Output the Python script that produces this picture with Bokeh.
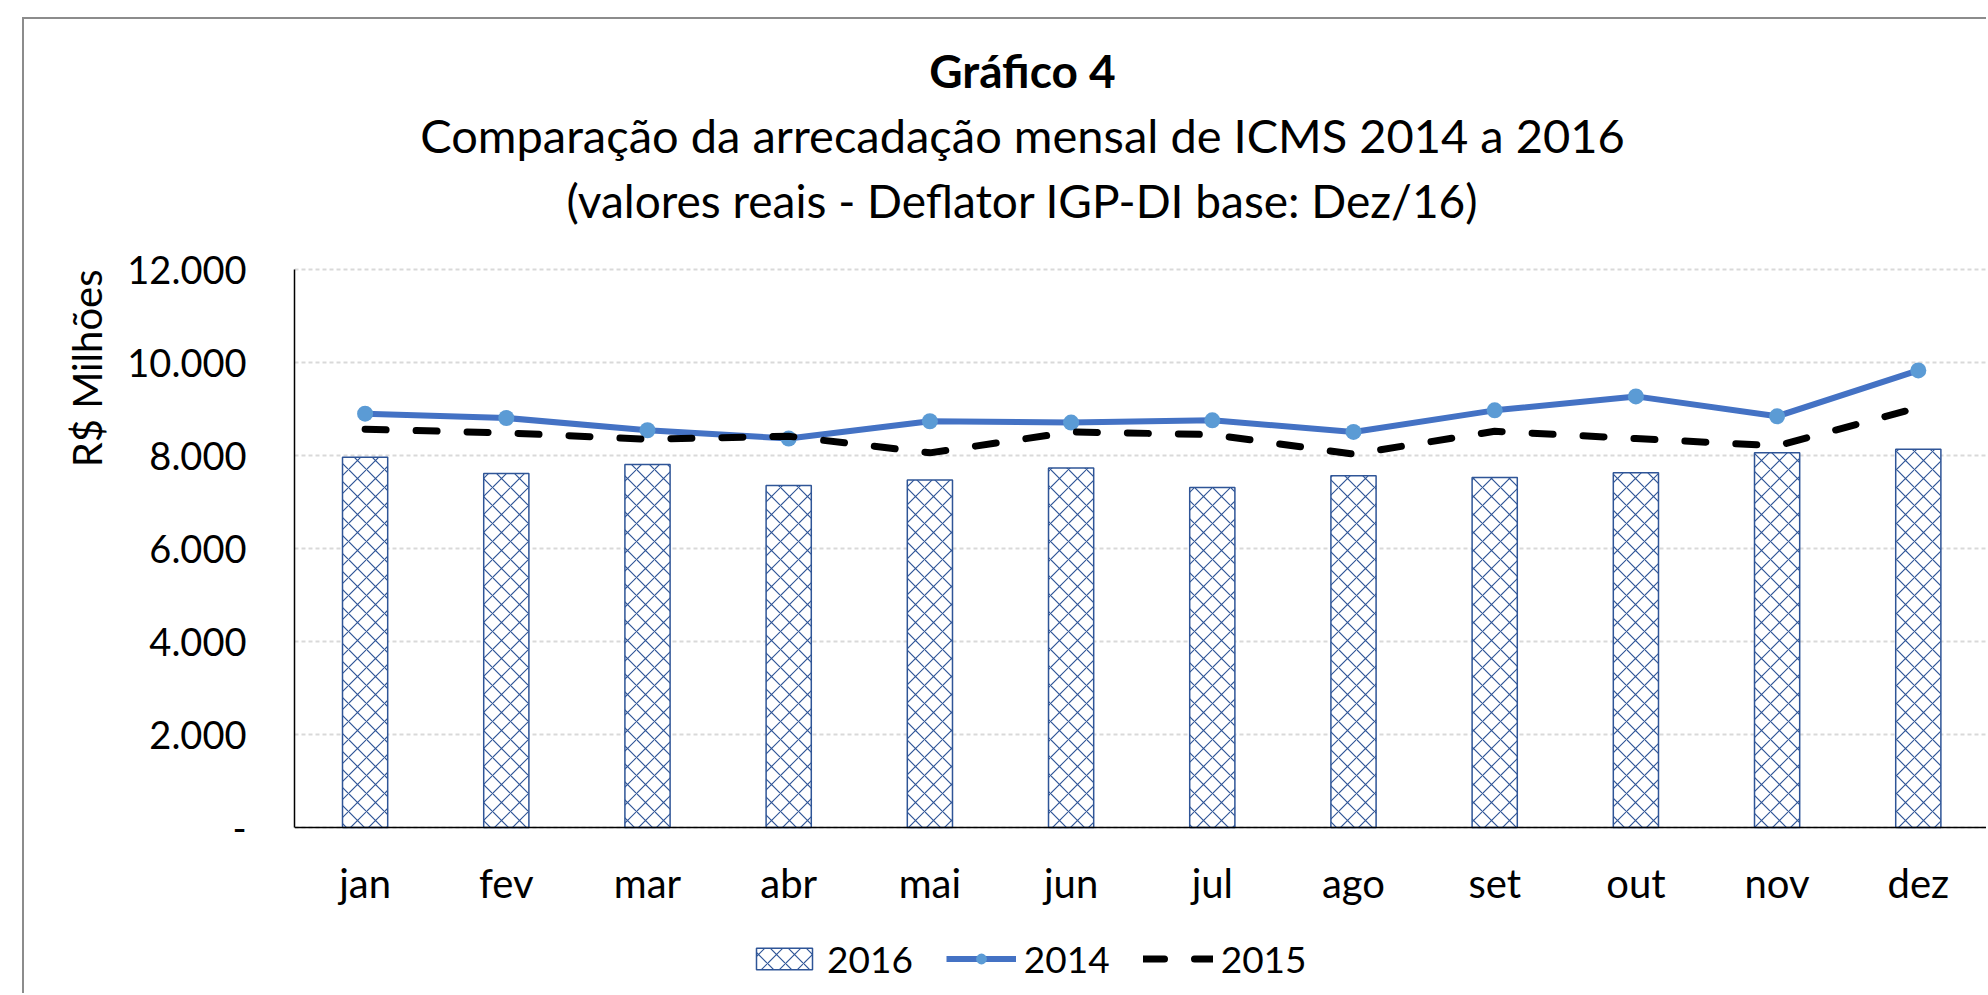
from bokeh.plotting import figure
from bokeh.models import Range1d, Label, Legend, LegendItem, FixedTicker, Title
from bokeh.embed import file_html
from bokeh.resources import INLINE

# ---- data ----
meses = ["jan", "fev", "mar", "abr", "mai", "jun", "jul", "ago", "set", "out", "nov", "dez"]
v2016 = [7964, 7614, 7807, 7357, 7471, 7729, 7314, 7564, 7529, 7629, 8057, 8136]
v2014 = [8900, 8807, 8543, 8364, 8736, 8707, 8757, 8507, 8971, 9271, 8843, 9829]
v2015 = [8564, 8486, 8350, 8414, 8057, 8507, 8450, 8029, 8521, 8364, 8207, 9029]
yticks = [0, 2000, 4000, 6000, 8000, 10000, 12000]
ytick_labels = ["-", "2.000", "4.000", "6.000", "8.000", "10.000", "12.000"]
titulo = "Gráfico 4"
subtitulo1 = "Comparação da arrecadação mensal de ICMS 2014 a 2016"
subtitulo2 = "(valores reais - Deflator IGP-DI base: Dez/16)"
ylabel = "R$ Milhões"

xs = list(range(len(meses)))

# ---- layout constants (pixels on the canvas) ----
FONT = "Lato"
W, H = 1964, 976
FL = 270                  # frame left (y axis position)
Y_TOP, Y_ZERO = 250, 808  # canvas y of 12000 and 0
CAT = 141.2               # pixels per month
ppu = (Y_ZERO - Y_TOP) / yticks[-1]
y_lo = -(H - Y_ZERO) / ppu
y_hi = yticks[-1] + Y_TOP / ppu
x_lo = -0.5
x_hi = x_lo + (W - FL) / CAT

p = figure(
    x_range=Range1d(x_lo, x_hi),
    y_range=Range1d(y_lo, y_hi),
    width=W, height=H,
    output_backend="svg", toolbar_location=None,
    min_border_left=FL, min_border_right=0, min_border_top=0, min_border_bottom=0,
)
p.styles = {"margin-left": "22px", "margin-top": "17px",
            "border-left": "2px solid #8c8c8c", "border-top": "2px solid #8c8c8c"}
p.outline_line_color = None
p.background_fill_color = "white"
p.border_fill_color = "white"

# axes
yt = FixedTicker(ticks=yticks)
xt = FixedTicker(ticks=xs)
p.yaxis.ticker = yt
p.yaxis.bounds = (yticks[0], yticks[-1])
p.yaxis.major_label_overrides = {t: l for t, l in zip(yticks, ytick_labels)}
p.xaxis.ticker = xt
p.xaxis.fixed_location = 0
p.xaxis.major_label_overrides = {i: m for i, m in zip(xs, meses)}
for ax in (p.xaxis, p.yaxis):
    ax.axis_line_color = "black"
    ax.axis_line_width = 1.5
    ax.major_tick_line_color = None
    ax.minor_tick_line_color = None
    ax.major_tick_out = 0
    ax.major_tick_in = 0
    ax.major_label_text_font = FONT
    ax.major_label_text_color = "black"
p.xaxis.major_label_text_font_size = "40px"
p.yaxis.major_label_text_font_size = "38px"
p.yaxis.major_label_standoff = 48
p.xaxis.major_label_standoff = 31

# grid
p.xgrid.grid_line_color = None
p.ygrid.ticker = yt
p.ygrid.grid_line_color = "#d9d9d9"
p.ygrid.grid_line_dash = "4 3"
p.ygrid.grid_line_width = 2

bars = p.vbar(x=xs, top=v2016, width=0.32, fill_color="white",
              line_color="#2F5597", line_width=1.5,
              hatch_pattern="x", hatch_color="#2F5597", hatch_scale=18, hatch_weight=1.2)
l14 = p.line(xs, v2014, line_color="#4472C4", line_width=6)
m14 = p.scatter(xs, v2014, size=16, fill_color="#5B9BD5", line_color=None)
l15 = p.line(xs, v2015, line_color="black", line_width=7, line_dash="21 30", line_cap="round")

legend = Legend(
    items=[LegendItem(label="2016", renderers=[bars]),
           LegendItem(label="2014", renderers=[l14, m14]),
           LegendItem(label="2015", renderers=[l15])],
    orientation="horizontal", location=(455, 14),
    glyph_width=70, glyph_height=27, label_standoff=8, spacing=33,
    padding=0, margin=0, border_line_color=None, background_fill_alpha=0,
    label_text_font=FONT, label_text_font_size="37px", label_text_color="black",
)
p.add_layout(legend, "center")

# titles (frame-relative screen units; frame spans the canvas height)
cx = 998 - FL
p.add_layout(Label(x=cx, y=H - 51, x_units="screen", y_units="screen", text=titulo,
                   text_font=FONT, text_font_size="46px", text_font_style="bold",
                   text_color="black", text_align="center", text_baseline="middle"))
p.add_layout(Label(x=cx, y=H - 115, x_units="screen", y_units="screen", text=subtitulo1,
                   text_font=FONT, text_font_size="47px", text_color="black",
                   text_align="center", text_baseline="middle"))
p.add_layout(Label(x=cx, y=H - 181, x_units="screen", y_units="screen", text=subtitulo2,
                   text_font=FONT, text_font_size="46px", text_color="black",
                   text_align="center", text_baseline="middle"))

# y axis title, aligned with the top of the value axis
p.add_layout(Title(text=ylabel, align="right", offset=Y_TOP, standoff=27,
                   text_font=FONT, text_font_size="40px", text_font_style="normal",
                   text_color="black"), "left")

open("out.html", "w").write(file_html(p, INLINE))
